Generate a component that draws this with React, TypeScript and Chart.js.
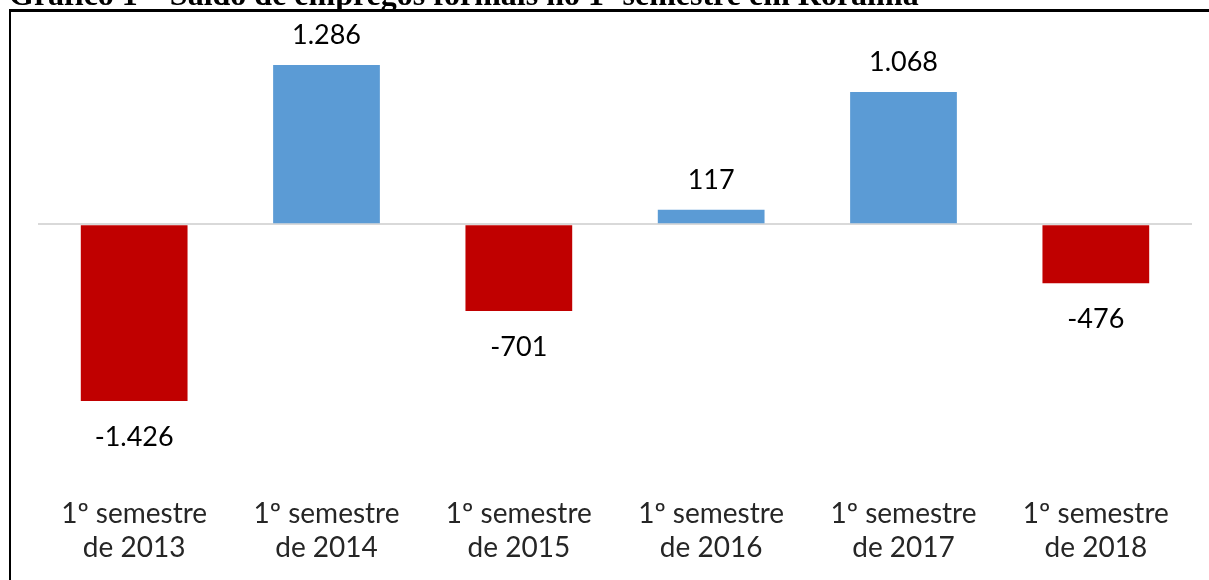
import React, { useEffect, useRef } from "react";
import { Chart, registerables } from "chart.js";

Chart.register(...registerables);

const TITLE = "Gráfico 1 – Saldo de empregos formais no 1º semestre em Roraima";
const CATEGORIES: string[][] = [
  ["1º semestre", "de 2013"],
  ["1º semestre", "de 2014"],
  ["1º semestre", "de 2015"],
  ["1º semestre", "de 2016"],
  ["1º semestre", "de 2017"],
  ["1º semestre", "de 2018"],
];
const VALUES: number[] = [-1426, 1286, -701, 117, 1068, -476];
const POSITIVE_COLOR = "#5b9bd5";
const NEGATIVE_COLOR = "#c00000";
const Y_MIN = -2000;
const Y_MAX = 1600;

const FONT_FAMILY = "Lato, 'Open Sans', sans-serif";

function formatPt(v: number): string {
  const s = Math.abs(v).toString().replace(/\B(?=(\d{3})+(?!\d))/g, ".");
  return (v < 0 ? "-" : "") + s;
}

const valueLabels = {
  id: "valueLabels",
  afterDatasetsDraw(chart: any) {
    const ctx = chart.ctx;
    const meta = chart.getDatasetMeta(0);
    ctx.save();
    ctx.font = `27px ${FONT_FAMILY}`;
    ctx.fillStyle = "#000000";
    ctx.textAlign = "center";
    ctx.textBaseline = "alphabetic";
    meta.data.forEach((bar: any, i: number) => {
      const v = VALUES[i];
      const y = v >= 0 ? bar.y - 21 : bar.y + 45;
      ctx.fillText(formatPt(v), bar.x, y);
    });
    ctx.restore();
  },
};

export default function App() {
  const canvasRef = useRef<HTMLCanvasElement | null>(null);

  useEffect(() => {
    if (!canvasRef.current) return;
    const chart = new Chart(canvasRef.current, {
      type: "bar",
      data: {
        labels: CATEGORIES,
        datasets: [
          {
            data: VALUES,
            backgroundColor: VALUES.map((v) => (v >= 0 ? POSITIVE_COLOR : NEGATIVE_COLOR)),
            borderWidth: 0,
            categoryPercentage: 1,
            barPercentage: 0.555,
          },
        ],
      },
      options: {
        responsive: false,
        animation: false,
        devicePixelRatio: 1,
        layout: { padding: { left: 38, right: 17, top: 26, bottom: 0 } },
        plugins: {
          legend: { display: false },
          tooltip: { enabled: false },
          title: { display: false },
        },
        scales: {
          x: {
            grid: { display: false, drawTicks: false },
            border: { display: false },
            ticks: {
              color: "#262626",
              font: { family: FONT_FAMILY, size: 28, lineHeight: "34px" as any },
              padding: 25,
              maxRotation: 0,
              autoSkip: false,
            },
          },
          y: {
            min: Y_MIN,
            max: Y_MAX,
            border: { display: false },
            grid: {
              drawTicks: false,
              lineWidth: 2,
              color: (c: any) => (c.tick && c.tick.value === 0 ? "#d9d9d9" : "rgba(0,0,0,0)"),
            },
            ticks: { display: false, stepSize: 400 },
          },
        },
      },
      plugins: [valueLabels],
    });
    return () => chart.destroy();
  }, []);

  return (
    <div
      style={{
        position: "fixed",
        left: 0,
        top: 0,
        width: 1209,
        height: 580,
        overflow: "hidden",
        background: "#ffffff",
      }}
    >
      <div
        style={{
          position: "absolute",
          left: 9,
          top: 9,
          width: 1400,
          height: 800,
          borderLeft: "2px solid #000",
          borderTop: "3px solid #000",
        }}
      />
      <canvas
        ref={canvasRef}
        width={1209}
        height={590}
        style={{ position: "absolute", left: 0, top: 0, width: 1209, height: 590 }}
      />
      <div
        style={{
          position: "absolute",
          left: 9,
          top: -22,
          whiteSpace: "nowrap",
          fontFamily: "'Liberation Serif', 'Times New Roman', serif",
          fontWeight: "bold",
          fontSize: 32,
          lineHeight: "32px",
          color: "#000",
        }}
      >
        {TITLE}
      </div>
    </div>
  );
}
